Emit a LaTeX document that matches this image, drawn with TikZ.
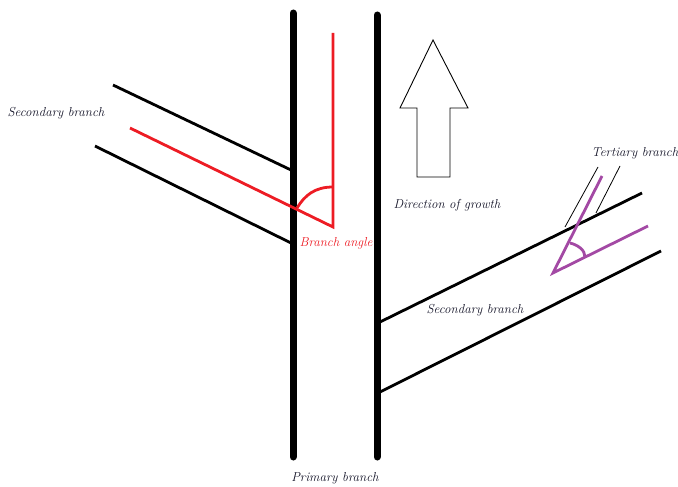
\documentclass[tikz,border=0pt]{standalone}
\definecolor{bred}{RGB}{237,28,36}
\definecolor{bpurple}{RGB}{163,73,164}
\definecolor{txt}{RGB}{20,20,40}
\begin{document}
\begin{tikzpicture}[x=1pt,y=-1pt,
  primary/.style={line width=7pt,line cap=round},
  secline/.style={line width=2.8pt},
  redline/.style={bred,line width=2.8pt},
  purpline/.style={bpurple,line width=2.8pt},
  thinline/.style={line width=0.8pt},
  lbl/.style={font=\fontsize{13}{15}\selectfont\itshape,inner sep=0pt,text=txt},
]
\useasboundingbox (0,0) rectangle (678,487);
% primary branch
\coordinate (pl1) at (293,13); \coordinate (pl2) at (293,457);
\coordinate (pr1) at (377,15); \coordinate (pr2) at (377,457);
\draw[primary] (pl1) -- (pl2);
\draw[primary] (pr1) -- (pr2);
% left secondary branch
\coordinate (ls1a) at (113,85); \coordinate (ls1b) at (291,170);
\coordinate (ls2a) at (95,146); \coordinate (ls2b) at (291,243);
\draw[secline] (ls1a) -- (ls1b);
\draw[secline] (ls2a) -- (ls2b);
% red branch angle
\coordinate (ra) at (130,128); \coordinate (rv) at (333,227); \coordinate (rt) at (333,33);
\coordinate (arcA) at (297,208); \coordinate (arcB) at (333,187);
\draw[redline,line join=miter] (ra) -- (rv) -- (rt);
\draw[redline] (arcA) .. controls (305,195) and (315,187) .. (arcB);
% right secondary branch
\coordinate (rs1a) at (380,322); \coordinate (rs1b) at (642,193);
\coordinate (rs2a) at (380,392); \coordinate (rs2b) at (661,251);
\draw[secline] (rs1a) -- (rs1b);
\draw[secline] (rs2a) -- (rs2b);
% tertiary branch
\coordinate (pv) at (553,273); \coordinate (pu) at (602,176); \coordinate (pr) at (648,226);
\draw[purpline,line join=miter] (pu) -- (pv) -- (pr);
\draw[purpline] (570,243) .. controls (578,245) and (585,250) .. (585,257);
\coordinate (t1a) at (565,227); \coordinate (t1b) at (598,167);
\coordinate (t2a) at (596,213); \coordinate (t2b) at (620,166);
\draw[thinline] (t1a) -- (t1b);
\draw[thinline] (t2a) -- (t2b);
% direction arrow
\draw[line width=0.9pt,line join=miter] (433,40) -- (468,108) -- (450,108) -- (450,177) -- (417,177) -- (417,108) -- (400,108) -- cycle;
% labels
\node[lbl] (lsec) at (56,113) {Secondary branch};
\node[lbl,text=bred] (bang) at (336,243) {Branch angle};
\node[lbl] (dir) at (447,205) {Direction of growth};
\node[lbl] (rsec) at (475,310) {Secondary branch};
\node[lbl] (tert) at (635,153) {Tertiary branch};
\node[lbl] (prim) at (335,478) {Primary branch};
\end{tikzpicture}
\end{document}
